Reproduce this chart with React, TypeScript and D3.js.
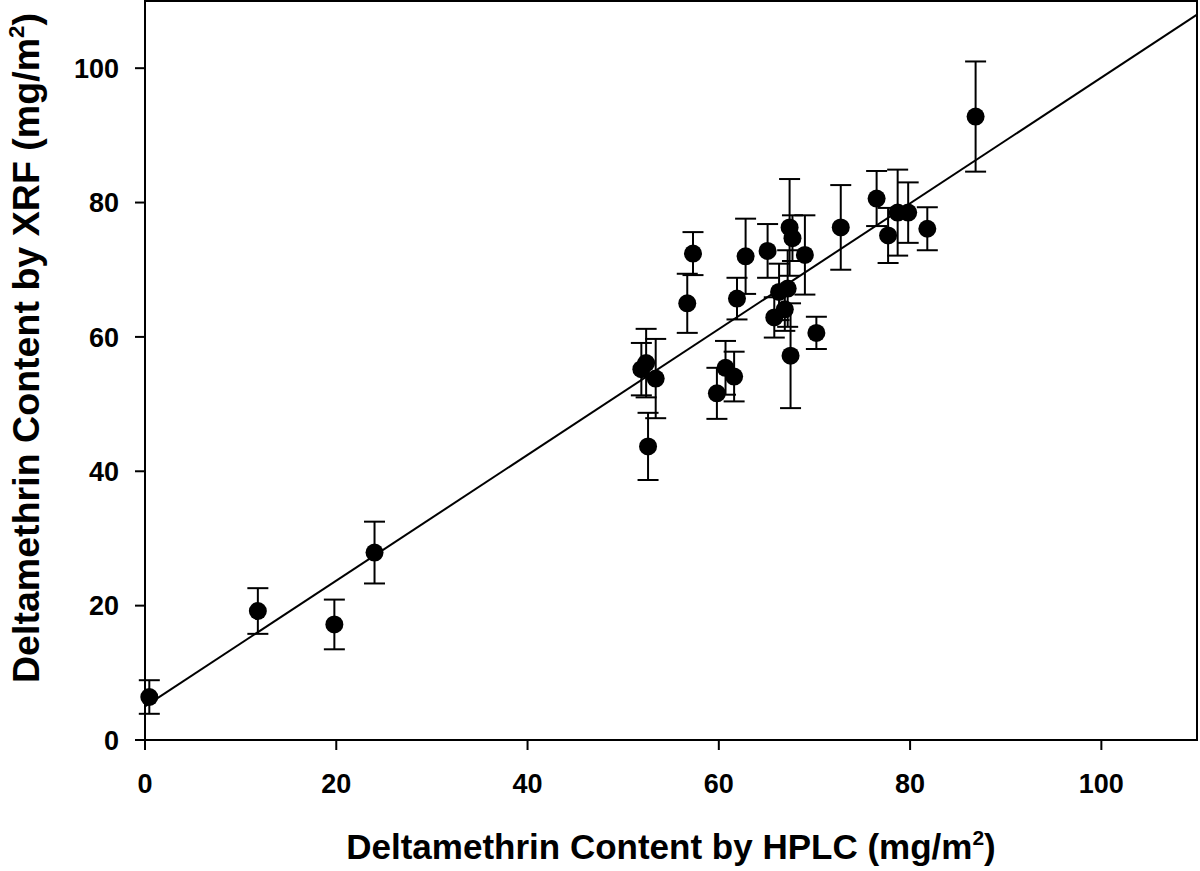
import * as d3 from "d3";

// HPLC (x), XRF (y) and the XRF error bar half-width
const hplc = [
  0.45, 11.8, 19.8, 24.0, 52.6, 51.9, 52.4, 53.4, 56.7, 57.3, 59.8, 60.7,
  61.6, 61.9, 62.8, 65.1, 65.8, 66.3, 66.9, 67.2, 67.4, 67.7, 67.5, 69.0,
  70.2, 72.75, 76.5, 77.7, 78.7, 79.8, 81.8, 86.85,
];
const xrf = [
  6.4, 19.2, 17.2, 27.9, 43.7, 55.2, 56.1, 53.8, 65.0, 72.4, 51.6, 55.4,
  54.1, 65.7, 72.0, 72.8, 62.9, 66.7, 64.1, 67.2, 76.3, 74.7, 57.2, 72.2,
  60.6, 76.3, 80.6, 75.1, 78.5, 78.5, 76.1, 92.8,
];
const xrfErr = [
  2.5, 3.4, 3.7, 4.6, 5.0, 3.9, 5.1, 5.9, 4.4, 3.2, 3.8, 4.0, 3.7, 3.1, 5.6,
  4.0, 3.0, 4.2, 3.2, 5.7, 7.2, 3.4, 7.8, 5.9, 2.4, 6.3, 4.1, 4.1, 6.4, 4.5,
  3.2, 8.2,
];

const xTicks = [0, 20, 40, 60, 80, 100];
const yTicks = [0, 20, 40, 60, 80, 100];

// fitted line
const fitIntercept = 5.0;
const fitSlope = 0.936;

const W = 1200;
const H = 871;
const left = 145;
const right = 1197;
const top = 1;
const bottom = 740;

const font = "'Liberation Sans', Arial, Helvetica, sans-serif";

export default function App() {
  const x = d3.scaleLinear().domain([0, 110]).range([left, right]);
  const y = d3.scaleLinear().domain([0, 110]).range([bottom, top]);

  const pts = hplc.map((h, i) => ({ h, v: xrf[i], e: xrfErr[i] }));
  const fit = d3.line<number>()
    .x((d) => x(d))
    .y((d) => y(fitIntercept + fitSlope * d));

  const cap = 10.5;

  return (
    <svg
      width={W}
      height={H}
      style={{ position: "absolute", left: 0, top: 0, background: "#fff" }}
    >
      <rect width={W} height={H} fill="#fff" />
      {/* frame */}
      <rect
        x={left}
        y={top}
        width={right - left}
        height={bottom - top}
        fill="none"
        stroke="#000"
        strokeWidth={2}
      />
      {/* ticks */}
      {xTicks.map((t) => (
        <g key={"x" + t}>
          <line x1={x(t)} x2={x(t)} y1={bottom} y2={bottom + 10} stroke="#000" strokeWidth={2} />
          <text
            x={x(t)}
            y={793}
            textAnchor="middle"
            fontFamily={font}
            fontWeight="bold"
            fontSize={27}
          >
            {t}
          </text>
        </g>
      ))}
      {yTicks.map((t) => (
        <g key={"y" + t}>
          <line x1={left - 10} x2={left} y1={y(t)} y2={y(t)} stroke="#000" strokeWidth={2} />
          <text
            x={119}
            y={y(t) + 9.7}
            textAnchor="end"
            fontFamily={font}
            fontWeight="bold"
            fontSize={27}
          >
            {t}
          </text>
        </g>
      ))}

      {/* regression line */}
      <path d={fit([0, 110]) ?? ""} fill="none" stroke="#000" strokeWidth={2} />

      {/* error bars */}
      {pts.map((p, i) => (
        <g key={"e" + i} stroke="#000" strokeWidth={2}>
          <line x1={x(p.h)} x2={x(p.h)} y1={y(p.v - p.e)} y2={y(p.v + p.e)} />
          <line x1={x(p.h) - cap} x2={x(p.h) + cap} y1={y(p.v + p.e)} y2={y(p.v + p.e)} />
          <line x1={x(p.h) - cap} x2={x(p.h) + cap} y1={y(p.v - p.e)} y2={y(p.v - p.e)} />
        </g>
      ))}
      {pts.map((p, i) => (
        <circle key={"c" + i} cx={x(p.h)} cy={y(p.v)} r={9} fill="#000" />
      ))}

      {/* axis titles */}
      <text
        x={(left + right) / 2}
        y={859}
        textAnchor="middle"
        fontFamily={font}
        fontWeight="bold"
        fontSize={35}
      >
        Deltamethrin Content by HPLC (mg/m
        <tspan fontSize={21} dy={-14}>2</tspan>
        <tspan dy={14}>)</tspan>
      </text>
      <text
        transform={`translate(38.5,348) rotate(-90)`}
        textAnchor="middle"
        fontFamily={font}
        fontWeight="bold"
        fontSize={37.6}
      >
        Deltamethrin Content by XRF (mg/m
        <tspan fontSize={22.5} dy={-15}>2</tspan>
        <tspan dy={15}>)</tspan>
      </text>
    </svg>
  );
}
